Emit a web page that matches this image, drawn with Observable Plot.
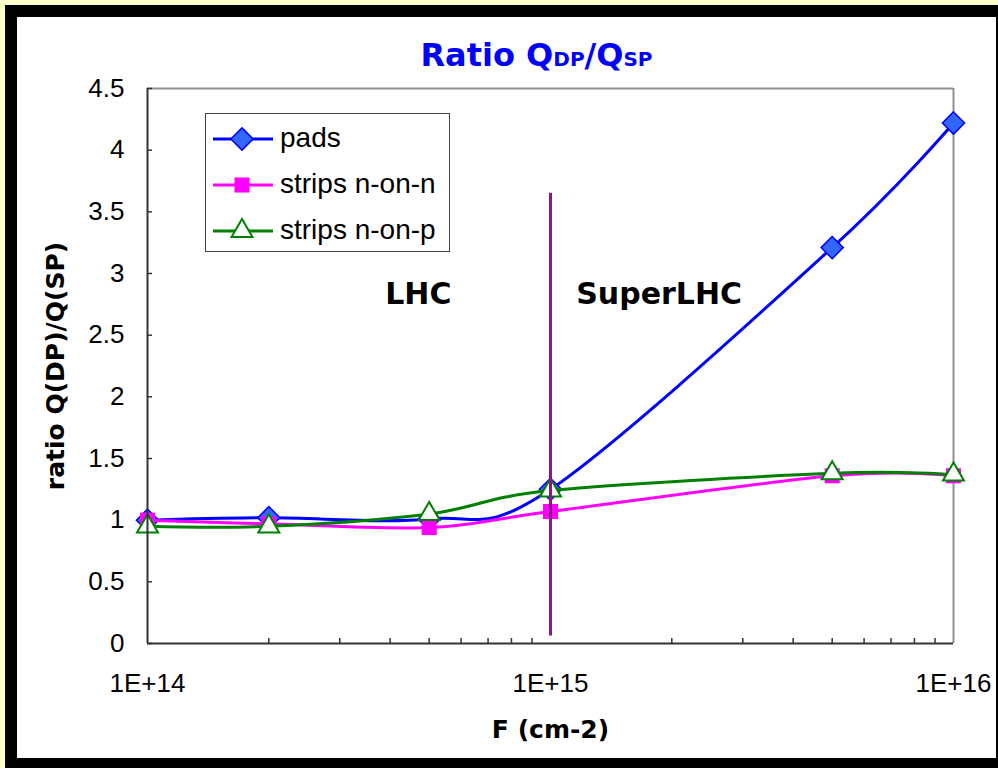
<!DOCTYPE html>
<html>
<head>
<meta charset="utf-8">
<script src="https://cdn.jsdelivr.net/npm/d3@7"></script>
<script src="https://cdn.jsdelivr.net/npm/@observablehq/plot@0.6"></script>
<style>
  html, body { margin: 0; padding: 0; background: #ffffcc; }
  #page { position: relative; width: 998px; height: 768px; background: #ffffcc; overflow: hidden; }
  #frame { position: absolute; left: 5px; top: 5px; width: 993px; height: 763px; background: #000; }
  #chart { position: absolute; left: 17px; top: 17px; width: 979px; height: 741px; background: #fff; }
  #title { position: absolute; left: 0; width: 1039px; top: 22px; text-align: center;
           font-family: "DejaVu Sans", sans-serif; font-weight: bold; color: #0000ff;
           font-size: 32px; line-height: 32px; white-space: nowrap; }
  #title .sub { font-size: 20px; }
  #legend { position: absolute; left: 188px; top: 96px; }
</style>
</head>
<body>
<div id="page">
  <div id="frame"></div>
  <div id="chart">
    <div id="title">Ratio Q<span class="sub">DP</span>/Q<span class="sub">SP</span></div>
  </div>
</div>
<script>
// Fluence points (cm^-2) and the charge ratio Q(DP)/Q(SP) for each detector type
const fluence = [1e14, 2e14, 5e14, 1e15, 5e15, 1e16];
const pads    = [1.00, 1.02, 1.01, 1.25, 3.21, 4.22];
const nOnN    = [1.00, 0.97, 0.94, 1.07, 1.36, 1.36];
const nOnP    = [0.95, 0.95, 1.05, 1.24, 1.38, 1.37];

const seriesNames = ["pads", "strips n-on-n", "strips n-on-p"];
const yTicks = [0, 0.5, 1, 1.5, 2, 2.5, 3, 3.5, 4, 4.5];
const xTicks = [1e14, 1e15, 1e16];
const xMinor = [2e14, 3e14, 4e14, 5e14, 6e14, 7e14, 8e14, 9e14,
                2e15, 3e15, 4e15, 5e15, 6e15, 7e15, 8e15, 9e15];

// LHC / SuperLHC boundary and region labels
const boundary = 1e15;
const regions = [
  {name: "LHC", x: 4.7e14, y: 2.83},
  {name: "SuperLHC", x: 1.86e15, y: 2.83}
];

const rows = (vals) => fluence.map((f, i) => ({f, v: vals[i]}));
const dPads = rows(pads), dNN = rows(nOnN), dNP = rows(nOnP);

const styles = [
  {color: "#0000ff", symbol: "diamond2", fill: "#3366ff", stroke: "#0000ff", r: 10, sw: 1.5},
  {color: "#ff00ff", symbol: "square",   fill: "#ff00ff", stroke: "#ff00ff", r: 8.5, sw: 0},
  {color: "#008000", symbol: "triangle2", fill: "#ffffff", stroke: "#008000", r: 10, sw: 2}
];

const W = 979, H = 741, mL = 130, mT = 71, mR = 43, mB = 115;
const fw = W - mL - mR, fh = H - mT - mB;
const bold = "DejaVu Sans, sans-serif";

function seriesMarks(data, s) {
  return [
    Plot.line(data, {x: "f", y: "v", stroke: s.color, strokeWidth: 3, curve: "cardinal"}),
    Plot.dot(data, {x: "f", y: "v", symbol: s.symbol, r: s.r, fill: s.fill,
                    stroke: s.stroke, strokeWidth: s.sw, fillOpacity: 1})
  ];
}

const chart = Plot.plot({
  width: W, height: H,
  marginLeft: mL, marginTop: mT, marginRight: mR, marginBottom: mB,
  style: {fontFamily: "Liberation Sans, Arial, sans-serif", fontSize: "26px", color: "#000", background: "transparent"},
  x: {type: "log", domain: [1e14, 1e16], label: null},
  y: {domain: [0, 4.5], label: null},
  marks: [
    // plot frame: grey top/right, dark axes left/bottom
    Plot.ruleY([4.5], {stroke: "#909090", strokeWidth: 2}),
    Plot.ruleX([1e16], {stroke: "#909090", strokeWidth: 2}),
    // inward ticks
    Plot.tickY(yTicks, {y: d => d, insetRight: fw - 5, stroke: "#333", strokeWidth: 1.5}),
    Plot.tickX(xMinor, {x: d => d, insetTop: fh - 5, stroke: "#333", strokeWidth: 1.5}),
    Plot.axisY(yTicks, {tickSize: 0, tickPadding: 23, tickFormat: d => String(d), label: null}),
    Plot.axisX(xTicks, {tickSize: 0, tickPadding: 30, label: null,
                        tickFormat: d => "1E+" + Math.round(Math.log10(d))}),
    ...seriesMarks(dPads, styles[0]),
    ...seriesMarks(dNN, styles[1]),
    ...seriesMarks(dNP, styles[2]),
    Plot.ruleX([boundary], {x: d => d, y1: 0.06, y2: 3.65, stroke: "#8a168a", strokeWidth: 3}),
    Plot.text(regions, {x: "x", y: "y", text: "name", fontFamily: bold, fontWeight: "bold",
                        fontSize: 30, fill: "#000"}),
    Plot.ruleX([1e14], {stroke: "#333", strokeWidth: 2}),
    Plot.ruleY([0], {stroke: "#333", strokeWidth: 2}),
    // axis titles
    Plot.text(["F (cm-2)"], {frameAnchor: "bottom", dy: 86, lineAnchor: "middle", textAnchor: "middle",
                             fontFamily: bold, fontWeight: "bold", fontSize: 25, fill: "#000"}),
    Plot.text(["ratio Q(DP)/Q(SP)"], {frameAnchor: "left", dx: -92, rotate: -90,
                             lineAnchor: "middle", textAnchor: "middle",
                             fontFamily: bold, fontWeight: "bold", fontSize: 25, fill: "#000"})
  ]
});

const host = document.getElementById("chart");
host.appendChild(chart);

// legend box
const leg = d3.create("svg").attr("id", "legend").attr("width", 246).attr("height", 140);
leg.append("rect").attr("x", 0.5).attr("y", 0.5).attr("width", 244).attr("height", 138)
   .attr("fill", "#fff").attr("stroke", "#444").attr("stroke-width", 1);
const symbolTypes = {diamond2: d3.symbolDiamond2, square: d3.symbolSquare, triangle2: d3.symbolTriangle2};
seriesNames.forEach((name, i) => {
  const s = styles[i];
  const cy = 26 + i * 46;
  const g = leg.append("g");
  g.append("line").attr("x1", 8).attr("x2", 68).attr("y1", cy).attr("y2", cy)
    .attr("stroke", s.color).attr("stroke-width", 3);
  g.append("path")
    .attr("d", d3.symbol(symbolTypes[s.symbol], Math.PI * s.r * s.r)())
    .attr("transform", `translate(37,${cy})`)
    .attr("fill", s.fill).attr("stroke", s.stroke).attr("stroke-width", s.sw);
  g.append("text").attr("x", 75).attr("y", cy + 8)
    .attr("font-family", "Liberation Sans, Arial, sans-serif").attr("font-size", 28)
    .attr("fill", "#000").text(name);
});
host.appendChild(leg.node());
</script>
</body>
</html>
